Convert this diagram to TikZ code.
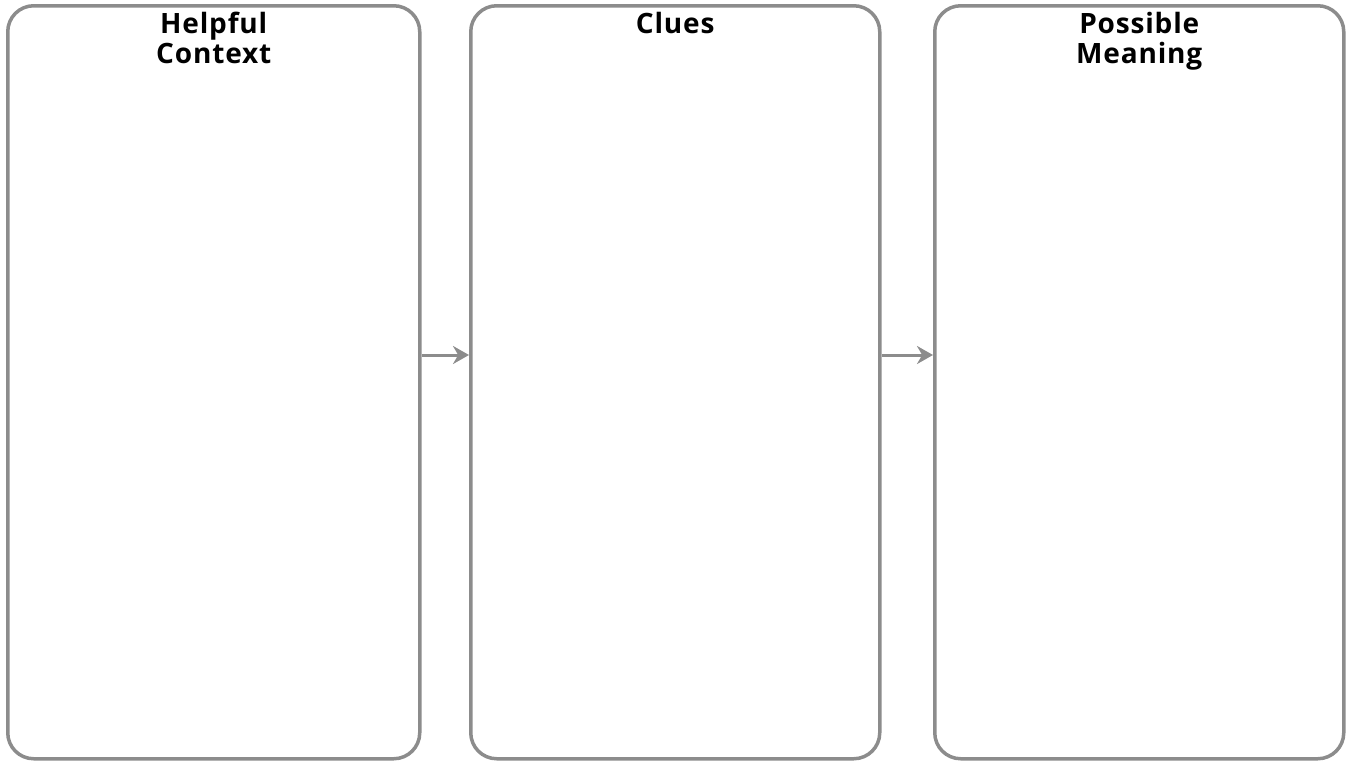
\documentclass[tikz,border=0pt]{standalone}
\usepackage{fontspec}
\setmainfont{Open Sans}
\usetikzlibrary{arrows.meta}
\definecolor{frame}{HTML}{8C8C8C}
\tikzset{
  panel/.style={draw=frame, line width=3.5pt, rounded corners=26pt, minimum width=#1, anchor=north west},
  title/.style={font=\fontsize{28}{30}\selectfont\bfseries\addfontfeature{LetterSpace=3}, align=center, anchor=north},
  conn/.style={draw=frame, line width=3pt, -{Stealth[length=16pt,width=18pt]}}
}
\begin{document}
\begin{tikzpicture}[x=1pt,y=-1pt]
\useasboundingbox (0,0) rectangle (1346,761);
\node[panel=412pt, minimum height=753pt] (p1) at (6,4) {};
\node[panel=409pt, minimum height=753pt] (p2) at (469,4) {};
\node[panel=409pt, minimum height=753pt] (p3) at (933,4) {};
\node[title] (t1) at ([yshift=-5pt]p1.north) {Helpful\\Context};
\node[title] (t2) at ([yshift=-5pt]p2.north) {Clues};
\node[title] (t3) at ([yshift=-5pt]p3.north) {Possible\\Meaning};
\draw[conn] (p1.east |- 0,355) -- (p2.west |- 0,355);
\draw[conn] (p2.east |- 0,355) -- (p3.west |- 0,355);
\end{tikzpicture}
\end{document}
